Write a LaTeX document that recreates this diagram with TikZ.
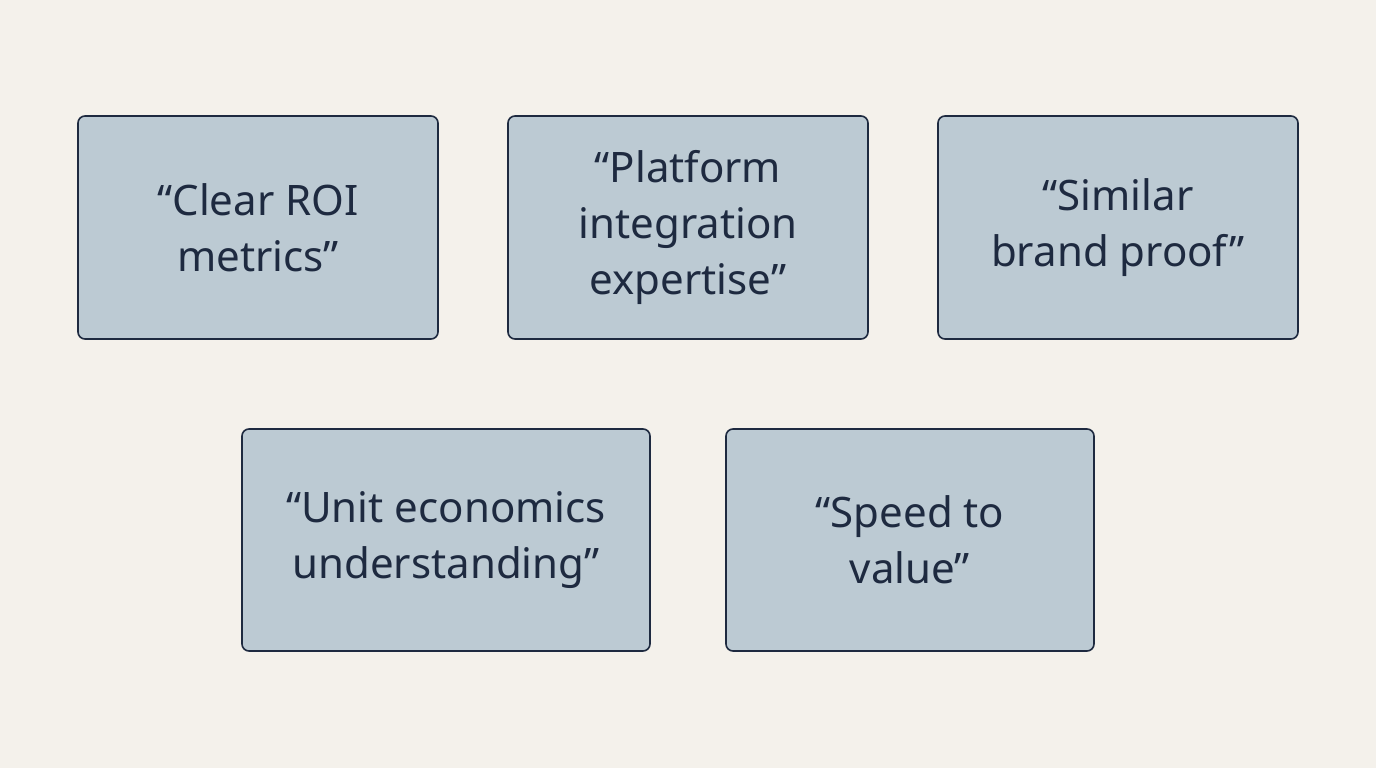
\documentclass[tikz,border=0pt]{standalone}
\usepackage{fontspec}
\setmainfont{Noto Sans}
\begin{document}
\definecolor{bg}{HTML}{F4F1EB}
\definecolor{boxf}{HTML}{BCCAD3}
\definecolor{navy}{HTML}{1E2A40}
\begin{tikzpicture}[x=1pt,y=-1pt,
  box/.style={draw=navy,line width=1.6pt,fill=boxf,rounded corners=7pt,text=navy,
    align=center,font=\fontsize{42}{56}\selectfont,inner sep=0pt}]
\fill[bg] (0,0) rectangle (1376,768);
\useasboundingbox (0,0) rectangle (1376,768);
\node[box,minimum width=360pt,minimum height=223pt] (a) at (258,227.5) {“Clear ROI\\metrics”};
\node[box,minimum width=360pt,minimum height=223pt] (b) at (688,227.5) {“Platform\\integration\\expertise”};
\node[box,minimum width=360pt,minimum height=223pt] (c) at (1118,227.5) {“Similar\\brand proof”};
\node[box,minimum width=408pt,minimum height=222pt] (d) at (446,540) {“Unit economics\\understanding”};
\node[box,minimum width=368pt,minimum height=222pt] (e) at (910,540) {“Speed to\\value”};
\end{tikzpicture}
\end{document}
